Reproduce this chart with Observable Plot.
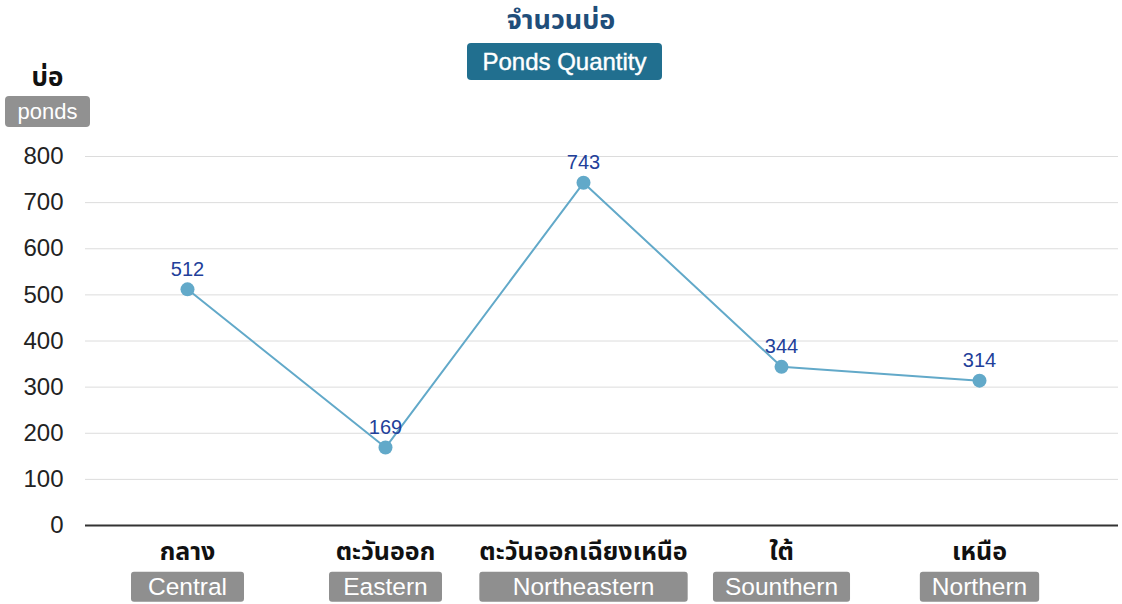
<!DOCTYPE html>
<html>
<head>
<meta charset="utf-8">
<script src="https://cdn.jsdelivr.net/npm/d3@7"></script>
<script src="https://cdn.jsdelivr.net/npm/@observablehq/plot@0.6"></script>
<style>
  body { margin: 0; background: #fff; font-family: "Liberation Sans", "Noto Sans Thai", "Noto Sans", sans-serif; }
  #wrap { position: relative; width: 1122px; height: 604px; overflow: hidden; }
  #header { position: relative; width: 1122px; height: 135px; }
  #title { position: absolute; left: 0; width: 1122px; top: 4px; text-align: center; font-size: 27px; font-weight: bold; color: #1f4e7a; line-height: 32px; }
  #subtitle { position: absolute; left: 467px; top: 43px; width: 195px; height: 37px; background: #216f8f; color: #fff; border-radius: 4px; font-size: 24px; line-height: 37px; text-align: center; -webkit-text-stroke: 0.4px #fff; }
  #ylab { position: absolute; left: 5px; width: 85px; top: 62px; text-align: center; font-size: 26px; font-weight: bold; color: #111; line-height: 30px; }
  #yunit { position: absolute; left: 5px; top: 96px; width: 85px; height: 31px; background: #919191; color: #fff; border-radius: 4px; font-size: 22px; line-height: 31px; text-align: center; }
  svg { display: block; }
</style>
</head>
<body>
<div id="wrap">
  <div id="header">
    <div id="title">จำนวนบ่อ</div>
    <div id="subtitle">Ponds Quantity</div>
    <div id="ylab">บ่อ</div>
    <div id="yunit">ponds</div>
  </div>
  <div id="chart"></div>
</div>
<script>
const regionsTh = ["กลาง", "ตะวันออก", "ตะวันออกเฉียงเหนือ", "ใต้", "เหนือ"];
const regionsEn = ["Central", "Eastern", "Northeastern", "Sounthern", "Northern"];
const ponds = [512, 169, 743, 344, 314];
const yTicks = [0, 100, 200, 300, 400, 500, 600, 700, 800];

const data = regionsTh.map((th, i) => ({th, en: regionsEn[i], v: ponds[i]}));

const lineColor = "#62a9c9";

const chart = Plot.plot({
  width: 1122,
  height: 469,
  marginLeft: 85,
  marginRight: 4,
  marginTop: 21,
  marginBottom: 79,
  style: {fontFamily: "'Liberation Sans', 'Noto Sans Thai', 'Noto Sans', sans-serif", background: "#fff"},
  x: {type: "point", domain: regionsTh, range: [186, 979], padding: 0},
  y: {domain: [0, 800]},
  marks: [
    Plot.gridY(yTicks, {stroke: "#dcdcdc", strokeOpacity: 1, strokeWidth: 1}),
    Plot.axisY(yTicks, {tickSize: 0, tickPadding: 22, fontSize: 24, fill: "#222", label: null}),
    Plot.ruleY([0], {stroke: "#333", strokeWidth: 2}),
    Plot.axisX({tickSize: 0, tickPadding: 17, fontSize: 25, fontWeight: "bold", fill: "#111", label: null}),
    Plot.line(data, {x: "th", y: "v", stroke: lineColor, strokeWidth: 2}),
    Plot.dot(data, {x: "th", y: "v", r: 7, fill: lineColor, stroke: null}),
    Plot.text(data, {x: "th", y: "v", text: d => String(d.v), dy: -20, fill: "#22409a", fontSize: 20}),
    Plot.text(data, {x: "th", text: "en", frameAnchor: "bottom", dy: 62, lineAnchor: "middle", fill: "#fff", fontSize: 24.5, ariaLabel: "enlab"})
  ]
});

document.getElementById("chart").append(chart);

// grey label boxes behind the English category names
const allTexts = Array.from(chart.querySelectorAll("text"));
const thWidth = new Map(allTexts.filter(t => regionsTh.includes(t.textContent)).map(t => [t.textContent, t.getBBox().width]));
allTexts
  .filter(t => regionsEn.includes(t.textContent))
  .forEach(t => {
    const bb = t.getBBox();
    const th = regionsTh[regionsEn.indexOf(t.textContent)];
    const w = Math.max(bb.width + 24, thWidth.get(th) || 0, 113);
    const cx = bb.x + bb.width / 2;
    const cy = bb.y + bb.height / 2;
    const rect = document.createElementNS("http://www.w3.org/2000/svg", "rect");
    rect.setAttribute("x", cx - w / 2);
    rect.setAttribute("y", cy - 15);
    rect.setAttribute("width", w);
    rect.setAttribute("height", 30);
    rect.setAttribute("rx", 3);
    rect.setAttribute("fill", "#8f8f8f");
    const tr = t.getAttribute("transform");
    if (tr) rect.setAttribute("transform", tr);
    t.parentNode.insertBefore(rect, t);
  });
</script>
</body>
</html>
